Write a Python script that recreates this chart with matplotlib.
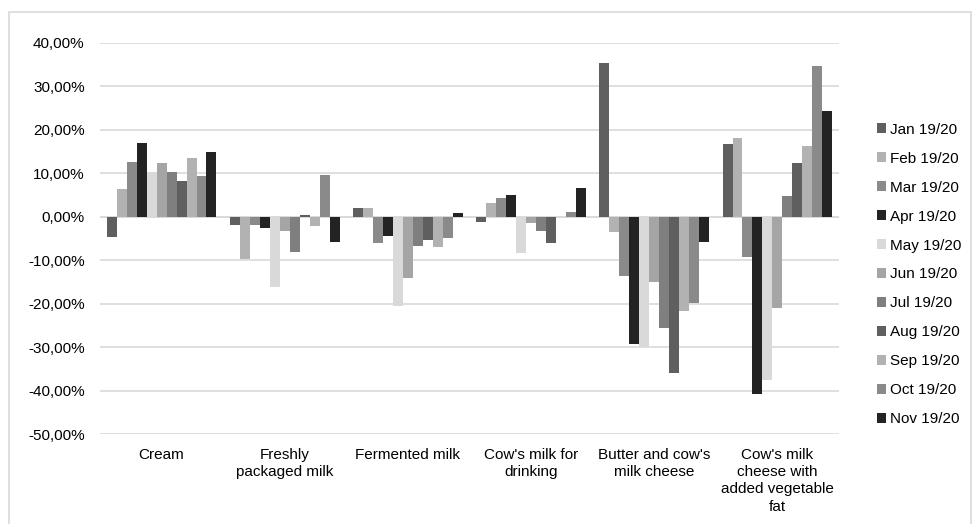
import numpy as np
import matplotlib.pyplot as plt
from matplotlib.patches import Rectangle
from matplotlib.ticker import FuncFormatter

plt.rcParams["font.family"] = ["Liberation Sans", "DejaVu Sans"]
plt.rcParams["font.size"] = 11

categories = ["Cream", "Freshly\npackaged milk", "Fermented milk",
              "Cow's milk for\ndrinking", "Butter and cow's\nmilk cheese",
              "Cow's milk\ncheese with\nadded vegetable\nfat"]
months = ["Jan 19/20", "Feb 19/20", "Mar 19/20", "Apr 19/20", "May 19/20", "Jun 19/20",
          "Jul 19/20", "Aug 19/20", "Sep 19/20", "Oct 19/20", "Nov 19/20"]

# percent change per product, one list per month
jan = [-4.6, -1.8, 2.0, -1.1, 35.3, 16.8]
feb = [6.4, -9.8, 2.1, 3.1, -3.5, 18.2]
mar = [12.5, -2.0, -6.0, 4.4, -13.7, -9.3]
apr = [17.0, -2.5, -4.4, 5.1, -29.2, -40.7]
may = [10.2, -16.2, -20.5, -8.4, -30.0, -37.6]
jun = [12.3, -3.2, -14.0, -1.5, -15.0, -21.0]
jul = [10.2, -8.0, -6.7, -3.2, -25.6, 4.8]
aug = [8.3, 0.5, -5.4, -6.0, -36.0, 12.4]
sep = [13.6, -2.1, -6.9, 0.0, -21.8, 16.2]
oct_ = [9.5, 9.7, -5.0, 1.1, -19.9, 34.6]
nov = [15.0, -5.7, 0.8, 6.7, -5.8, 24.3]
series = [jan, feb, mar, apr, may, jun, jul, aug, sep, oct_, nov]

colors = ["#5f5f5f", "#b2b2b2", "#8a8a8a", "#232323", "#d9d9d9", "#a5a5a5",
          "#7f7f7f", "#5f5f5f", "#b2b2b2", "#8a8a8a", "#232323"]

fig = plt.figure(figsize=(9.76, 5.24), dpi=100)
ax = fig.add_axes([100 / 976, 1 - 434 / 524, 739 / 976, 391 / 524])

x = np.arange(len(categories))
w = 0.081
for i, (vals, c, m) in enumerate(zip(series, colors, months)):
    ax.bar(x + (i - 5) * w, vals, width=w, color=c, label=m, zorder=3)

ax.set_xlim(-0.5, len(categories) - 0.5)
ax.set_ylim(-50, 40)
ax.set_yticks(np.arange(-50, 41, 10))
ax.yaxis.set_major_formatter(FuncFormatter(lambda v, p: f"{v:.2f}%".replace(".", ",")))
ax.set_xticks(x)
ax.set_xticklabels(categories, linespacing=1.3)
ax.tick_params(axis="both", length=0, colors="#000000", labelsize=11)
ax.tick_params(axis="y", pad=11)
ax.tick_params(axis="x", pad=10)
ax.grid(axis="y", color="#d9d9d9", linewidth=1.2, zorder=0)
ax.axhline(0, color="#d9d9d9", linewidth=1.2, zorder=2)
for s in ax.spines.values():
    s.set_visible(False)

fig.legend(loc="center left", bbox_to_anchor=(869 / 976, 1 - 274.5 / 524),
           frameon=False, handlelength=0.6, handleheight=0.6, handletextpad=0.25,
           labelspacing=0.98, borderpad=0, fontsize=11)

# light frame round the chart area
fig.patches.append(Rectangle((9 / 976, -0.05), 962 / 976, 1 - 12 / 524 + 0.05,
                             transform=fig.transFigure, fill=False,
                             edgecolor="#d9d9d9", linewidth=1.2))

fig.savefig("out.png", dpi=100)
